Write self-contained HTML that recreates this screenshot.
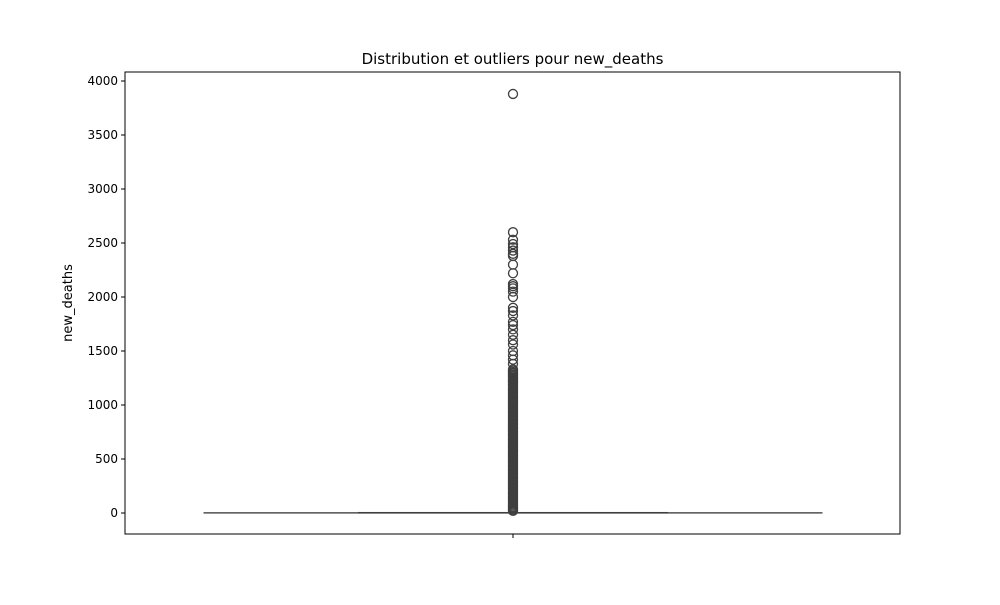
<!DOCTYPE html>
<html><head><meta charset="utf-8"><style>
body{margin:0;background:#fff}
svg text{font-family:"DejaVu Sans","Liberation Sans",sans-serif;fill:#000}
</style></head><body>
<svg id="c" width="1000" height="600" xmlns="http://www.w3.org/2000/svg"></svg>
<script>
const yTicks=[0,500,1000,1500,2000,2500,3000,3500,4000];
const boxStats=[0,1,5];
const whiskerHigh=3;
const outliers=[3880,2600,2530,2490,2460,2430,2400,2380,2300,2220,2120,2100,2080,2050,2000,1900,1870,1830,1770,1740,1700,1650,1600,1560,1500,1460,1420,1380,
1330,1318,1305,1292,1280,1268,1255,1242,1230,1218,1205,1192,1180,1168,1155,1142,1130,1118,1105,1092,1080,1068,1055,1042,1030,1018,1005,992,980,968,955,942,930,918,905,892,880,868,855,842,830,818,805,792,780,768,755,742,730,718,705,692,680,668,655,642,630,618,605,592,580,568,555,542,530,518,505,492,480,468,455,442,430,418,405,392,380,368,355,342,330,318,305,292,280,268,255,242,230,218,205,192,180,168,155,142,130,118,105,92,80,68,55,42,30,20];
const L=125,R=900,T=72,B=534;
const y=v=>513-(v/500)*54;
const xc=513;
const boxHalf=(668-358)/2, capHalf=(823-204)/2;
const s=document.getElementById('c');const NS='http://www.w3.org/2000/svg';
function el(t,a){const e=document.createElementNS(NS,t);for(const k in a)e.setAttribute(k,a[k]);s.appendChild(e);return e;}
let e;
e=el('line',{x1:xc-capHalf,x2:xc+capHalf,y1:y(boxStats[0]),y2:y(boxStats[0]),stroke:'#555','stroke-width':1.3});

e=el('line',{x1:xc-capHalf,x2:xc+capHalf,y1:y(whiskerHigh),y2:y(whiskerHigh),stroke:'#555','stroke-width':1});

e=el('rect',{x:xc-boxHalf,y:y(boxStats[2])-0.5,width:boxHalf*2,height:Math.max(1.5,y(boxStats[0])-y(boxStats[2])),fill:'#3f3f3f'});

outliers.forEach(v=>{const c=el('circle',{cx:xc,cy:y(v),r:4.5,fill:'none',stroke:'#3f3f3f','stroke-width':1.3});

});
e=el('rect',{x:L,y:T,width:R-L,height:B-T,fill:'none',stroke:'#000','stroke-width':1});

yTicks.forEach(v=>{el('line',{x1:L-4,x2:L,y1:y(v),y2:y(v),stroke:'#000'});
const t=el('text',{x:L-7,y:y(v)+4,'text-anchor':'end','font-size':12});t.textContent=v;

});
el('line',{x1:xc,x2:xc,y1:B,y2:B+4,stroke:'#000'});
e=el('text',{x:0,y:0,'text-anchor':'middle','font-size':13,transform:`translate(72,${(T+B)/2}) rotate(-90)`});e.textContent='new_deaths';

e=el('text',{x:(L+R)/2,y:64,'text-anchor':'middle','font-size':15});e.textContent='Distribution et outliers pour new_deaths';

</script>
</body></html>
